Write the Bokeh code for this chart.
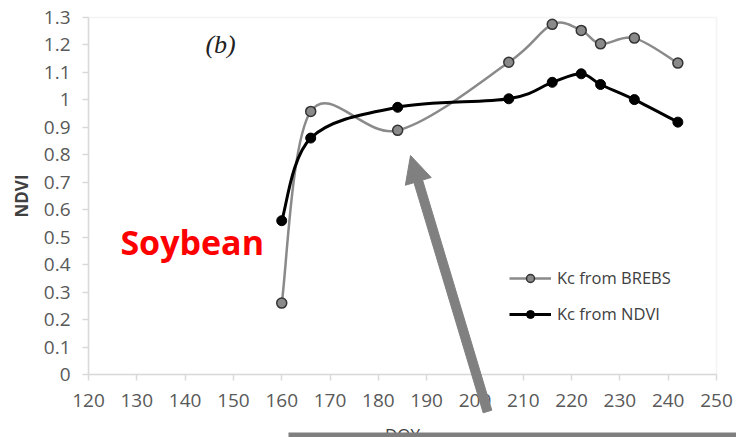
import math
from bokeh.plotting import figure
from bokeh.models import (Range1d, FixedTicker, Legend, LegendItem, Label,
                          PolyAnnotation, BoxAnnotation, ColumnDataSource)
from bokeh.embed import file_html
from bokeh.resources import INLINE

# ---- data ----
doy = [160, 166, 184, 207, 216, 222, 226, 233, 242]
kc_brebs = [0.26, 0.958, 0.889, 1.137, 1.275, 1.253, 1.204, 1.225, 1.134]
kc_ndvi = [0.56, 0.861, 0.973, 1.004, 1.064, 1.095, 1.056, 1.001, 0.919]

x_ticks = [120, 130, 140, 150, 160, 170, 180, 190, 200, 210, 220, 230, 240, 250]
x_tick_labels = ["120", "130", "140", "150", "160", "170", "180", "190", "200",
                 "210", "220", "230", "240", "250"]
y_ticks = [0, 0.1, 0.2, 0.3, 0.4, 0.5, 0.6, 0.7, 0.8, 0.9, 1, 1.1, 1.2, 1.3]
y_tick_labels = ["0", "0.1", "0.2", "0.3", "0.4", "0.5", "0.6", "0.7", "0.8",
                 "0.9", "1", "1.1", "1.2", "1.3"]

series_names = ["Kc from BREBS", "Kc from NDVI"]
x_title, y_title = "DOY", "NDVI"

# axis extents of the chart area
X0, X1, Y0, Y1 = 120, 250, 0, 1.3

# ---- layout (pixels) ----
W, H = 736, 437
M_LEFT, M_RIGHT, M_TOP, M_BOTTOM = 88, 20, 17, 63
PX_X = (W - M_LEFT - M_RIGHT) / (X1 - X0)
PX_Y = (H - M_TOP - M_BOTTOM) / (Y1 - Y0)


def px_to_data(px, py):
    """Canvas pixel (from top-left) -> data coordinates."""
    return X0 + (px - M_LEFT) / PX_X, Y0 + (H - M_BOTTOM - py) / PX_Y


def smooth_segments(xs, ys):
    """Cubic Bezier segments through the points (Catmull-Rom style smoothing)."""
    n = len(xs)
    out = dict(x0=[], y0=[], x1=[], y1=[], cx0=[], cy0=[], cx1=[], cy1=[])
    for i in range(n - 1):
        xa, ya = xs[i], ys[i]
        xb, yb = xs[i + 1], ys[i + 1]
        xp, yp = (xs[i - 1], ys[i - 1]) if i > 0 else (xa, ya)
        xn, yn = (xs[i + 2], ys[i + 2]) if i + 2 < n else (xb, yb)
        out["x0"].append(xa); out["y0"].append(ya)
        out["x1"].append(xb); out["y1"].append(yb)
        out["cx0"].append(xa + (xb - xp) / 6.0); out["cy0"].append(ya + (yb - yp) / 6.0)
        out["cx1"].append(xb - (xn - xa) / 6.0); out["cy1"].append(yb - (yn - ya) / 6.0)
    return ColumnDataSource(out)


FONT = "Open Sans"
ARROW_GRAY = "#808080"
FRAME_GRAY = "#d9d9d9"

# the drawing frame covers the whole canvas so that the arrow and the
# bottom bar are not clipped; axes are placed at fixed data locations.
p = figure(width=W, height=H, output_backend="svg", toolbar_location=None,
           x_range=Range1d(X0 - M_LEFT / PX_X, X1 + M_RIGHT / PX_X),
           y_range=Range1d(Y0 - M_BOTTOM / PX_Y, Y1 + M_TOP / PX_Y),
           min_border=0, min_border_left=0, min_border_right=0,
           min_border_top=0, min_border_bottom=0)
p.background_fill_color = "white"
p.border_fill_color = "white"
p.outline_line_color = None
p.xgrid.visible = False
p.ygrid.visible = False

# chart-area outline
p.add_layout(BoxAnnotation(left=X0, right=X1, bottom=Y0, top=Y1, fill_alpha=0,
                           line_color=FRAME_GRAY, line_width=1.5, level="underlay"))

for ax in (p.xaxis[0], p.yaxis[0]):
    ax.axis_line_color = FRAME_GRAY
    ax.axis_line_width = 1.5
    ax.major_tick_line_color = FRAME_GRAY
    ax.major_tick_line_width = 1.5
    ax.major_tick_in = 0
    ax.major_tick_out = 6
    ax.minor_tick_line_color = None
    ax.major_label_text_font = FONT
    ax.major_label_text_font_size = "19px"
    ax.major_label_text_color = "#595959"
    ax.axis_label_text_font = FONT
    ax.axis_label_text_color = "#404040"
    ax.axis_label_text_font_size = "17px"

p.xaxis.fixed_location = Y0
p.yaxis.fixed_location = X0
p.xaxis.bounds = (X0, X1)
p.yaxis.bounds = (Y0, Y1)
p.xaxis.ticker = FixedTicker(ticks=x_ticks)
p.xaxis.major_label_overrides = {t: l for t, l in zip(x_ticks, x_tick_labels)}
p.yaxis.ticker = FixedTicker(ticks=y_ticks)
p.yaxis.major_label_overrides = {t: l for t, l in zip(y_ticks, y_tick_labels)}
p.yaxis.axis_label = y_title
p.xaxis.axis_label = x_title
p.xaxis.major_label_standoff = 13
p.yaxis.major_label_standoff = 12
p.yaxis.axis_label_standoff = 8
p.xaxis.axis_label_standoff = 13
p.yaxis.axis_label_text_font_style = "bold"
p.xaxis.axis_label_text_font_style = "normal"

GRAY = "#8a8a8a"
# smoothed lines
b1 = p.bezier(x0="x0", y0="y0", x1="x1", y1="y1", cx0="cx0", cy0="cy0", cx1="cx1", cy1="cy1",
              source=smooth_segments(doy, kc_brebs), line_color=GRAY, line_width=2.5)
b2 = p.bezier(x0="x0", y0="y0", x1="x1", y1="y1", cx0="cx0", cy0="cy0", cx1="cx1", cy1="cy1",
              source=smooth_segments(doy, kc_ndvi), line_color="black", line_width=3)

s1 = p.scatter(doy, kc_brebs, size=10, fill_color=GRAY, line_color="#333333", line_width=1.5)
s2 = p.scatter(doy, kc_ndvi, size=10, fill_color="black", line_color="black")

legend = Legend(items=[LegendItem(label=series_names[0], renderers=[b1, s1], index=0),
                       LegendItem(label=series_names[1], renderers=[b2, s2], index=0)],
                location=(509, 112), orientation="vertical",
                border_line_color=None, background_fill_alpha=0,
                label_text_font=FONT, label_text_font_size="16.5px",
                label_text_color="#404040", glyph_width=42, glyph_height=20,
                label_height=20, spacing=13, padding=5, margin=0,
                label_standoff=6)
p.add_layout(legend, "center")

# text annotations
p.add_layout(Label(x=144.2, y=1.202, text="(b)", text_font="Liberation Serif",
                   text_font_style="italic", text_font_size="26px",
                   text_color="#222222", text_baseline="alphabetic"))
p.add_layout(Label(x=126.6, y=0.484, text="Soybean", text_font=FONT,
                   text_font_style="bold", text_font_size="34px",
                   text_color="#ff0000", text_baseline="alphabetic"))

# arrow (grey, pointing at the BREBS dip)
tail = px_to_data(487, 411)
tip = px_to_data(410, 155)
head_len, head_w, shaft_w = 27.0, 27.0, 9.0
tx, ty = tail[0] * PX_X, tail[1] * PX_Y
hx, hy = tip[0] * PX_X, tip[1] * PX_Y
L = math.hypot(hx - tx, hy - ty)
ux, uy = (hx - tx) / L, (hy - ty) / L
nx, ny = -uy, ux
nkx, nky = hx - ux * head_len, hy - uy * head_len
pts = [(tx + nx * shaft_w / 2, ty + ny * shaft_w / 2),
       (nkx + nx * shaft_w / 2, nky + ny * shaft_w / 2),
       (nkx + nx * head_w / 2, nky + ny * head_w / 2),
       (hx, hy),
       (nkx - nx * head_w / 2, nky - ny * head_w / 2),
       (nkx - nx * shaft_w / 2, nky - ny * shaft_w / 2),
       (tx - nx * shaft_w / 2, ty - ny * shaft_w / 2)]
p.add_layout(PolyAnnotation(xs=[q[0] / PX_X for q in pts], ys=[q[1] / PX_Y for q in pts],
                            fill_color=ARROW_GRAY, fill_alpha=1,
                            line_color=ARROW_GRAY, line_alpha=1, level="overlay"))

# grey bar along the bottom edge
bl, bt = px_to_data(288, 432)
br, bb = px_to_data(W + 5, H + 5)
p.add_layout(BoxAnnotation(left=bl, right=br, bottom=bb, top=bt, fill_color="#7f7f7f",
                           fill_alpha=1, line_color=None, level="overlay"))

open("out.html", "w").write(file_html(p, INLINE))
